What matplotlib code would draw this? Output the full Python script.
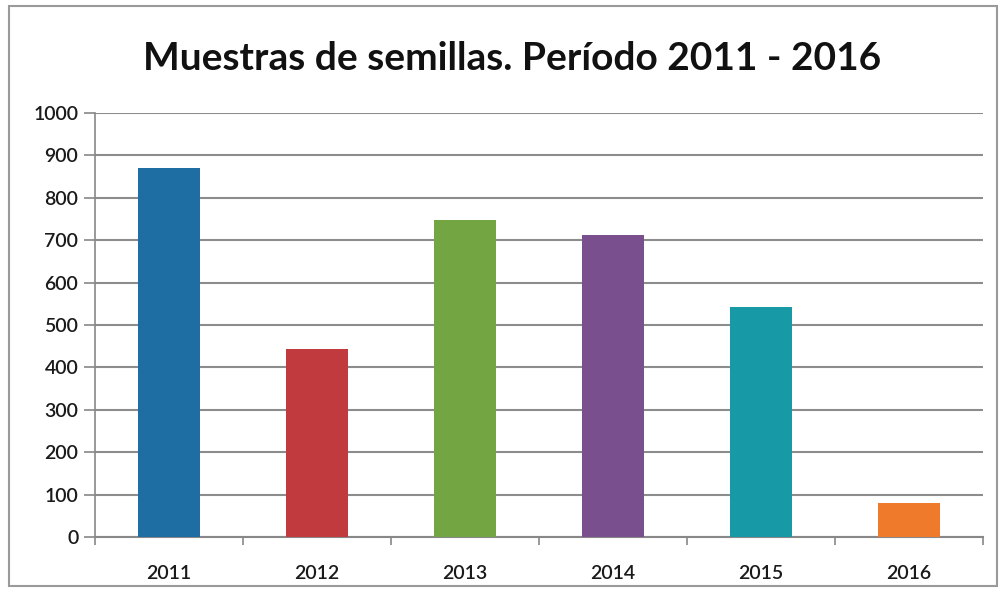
import matplotlib
matplotlib.use("Agg")
import matplotlib.pyplot as plt
from matplotlib.patches import Rectangle

years = ["2011", "2012", "2013", "2014", "2015", "2016"]
values = [870, 443, 748, 712, 542, 80]
colors = ["#1F6EA3", "#C13B3E", "#73A542", "#7A4F8E", "#1799A6", "#F07A2C"]
yticks = [0, 100, 200, 300, 400, 500, 600, 700, 800, 900, 1000]

plt.rcParams['font.family'] = ['Lato', 'DejaVu Sans']

fig = plt.figure(figsize=(9.99, 5.9), dpi=100)
W, H = 999, 590
ax = fig.add_axes([95/W, 1-537/H, (983-95)/W, (537-113)/H])

x = list(range(len(years)))
ax.bar(x, values, width=0.42, color=colors, zorder=3)
ax.set_xlim(-0.5, len(years)-0.5)
ax.set_ylim(0, 1000)
ax.set_yticks(yticks)
ax.set_yticklabels([str(v) for v in yticks], fontsize=14, color="#1a1a1a", fontweight="semibold")
ax.set_xticks(x)
ax.set_xticklabels(years, fontsize=14, color="#1a1a1a", fontweight="semibold")
ax.tick_params(axis='x', length=0, pad=20)
ax.set_xticks([i + 0.5 for i in range(-1, len(years))], minor=True)
ax.tick_params(axis='x', which='minor', length=6, color="#888888", width=1.2)
ax.tick_params(axis='y', length=8, color="#888888", width=1.2, pad=4)
ax.grid(axis='y', color="#8c8c8c", linewidth=1.5, zorder=0)
for s in ["top", "right"]:
    ax.spines[s].set_visible(False)
ax.spines["left"].set_color("#888888")
ax.spines["left"].set_linewidth(1.2)
ax.spines["bottom"].set_color("#888888")
ax.spines["bottom"].set_linewidth(1.5)

fig.text(512/W, 1-58/H, "Muestras de semillas. Período 2011 - 2016",
         ha="center", va="center", fontsize=28, fontweight="bold", color="#111111")

fig.patches.append(Rectangle((9/W, 4/H), 988/W, 580/H, transform=fig.transFigure,
                             fill=False, edgecolor="#9a9a9a", linewidth=1.5))

fig.savefig("out.png", dpi=100)
